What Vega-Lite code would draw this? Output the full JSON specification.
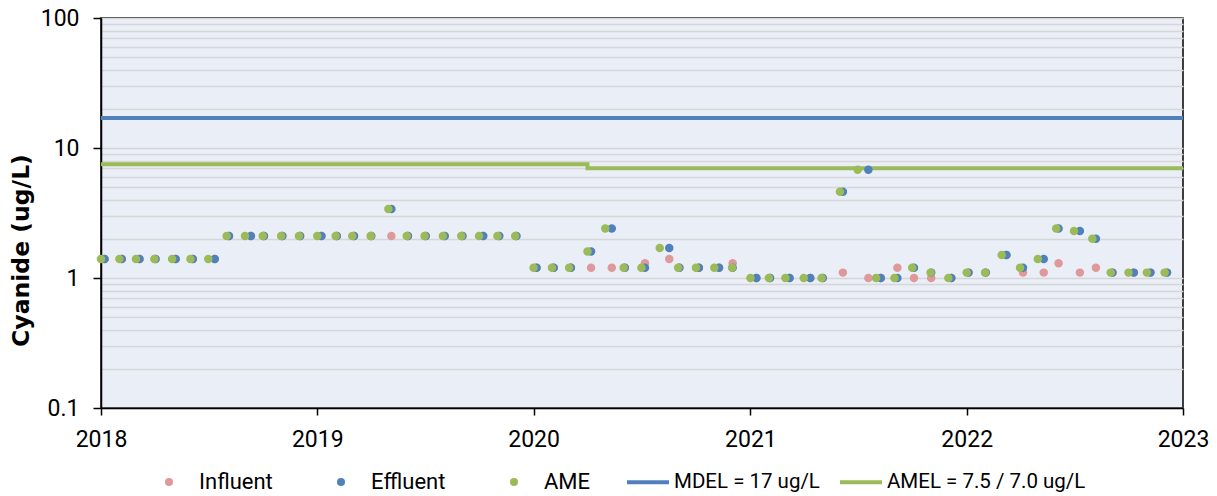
{
  "$schema": "https://vega.github.io/schema/vega-lite/v6.json",
  "width": 1082,
  "height": 390,
  "autosize": {"type": "none"},
  "padding": {"left": 101, "top": 18, "right": 34, "bottom": 88},
  "background": "white",
  "config": {
    "font": "Roboto",
    "view": {"fill": "#eaeff7", "stroke": "#000000", "strokeWidth": 1.5},
    "axis": {
      "labelFont": "Roboto",
      "labelFontSize": 23,
      "labelColor": "#000000",
      "domainColor": "#000000",
      "domainWidth": 1.5,
      "tickColor": "#000000",
      "tickWidth": 1.5,
      "labelFlush": false,
      "labelOverlap": false
    },
    "legend": {
      "orient": "none",
      "direction": "horizontal",
      "title": null,
      "padding": 0,
      "labelFont": "Roboto",
      "labelFontSize": 22,
      "labelColor": "#000000",
      "labelLimit": 400
    }
  },
  "datasets": {
    "lim": [
      {"date": "2018-01-01", "series": "MDEL = 17 ug/L", "value": 17},
      {"date": "2023-01-01", "series": "MDEL = 17 ug/L", "value": 17},
      {"date": "2018-01-01", "series": "AMEL = 7.5 / 7.0 ug/L", "value": 7.5},
      {"date": "2020-04-01", "series": "AMEL = 7.5 / 7.0 ug/L", "value": 7.0},
      {"date": "2023-01-01", "series": "AMEL = 7.5 / 7.0 ug/L", "value": 7.0}
    ],
    "pts": [
      {"date": "2018-01-07", "series": "Influent", "value": 1.4},
      {"date": "2018-02-05", "series": "Influent", "value": 1.4},
      {"date": "2018-03-07", "series": "Influent", "value": 1.4},
      {"date": "2018-04-03", "series": "Influent", "value": 1.4},
      {"date": "2018-05-07", "series": "Influent", "value": 1.4},
      {"date": "2018-06-05", "series": "Influent", "value": 1.4},
      {"date": "2018-07-12", "series": "Influent", "value": 1.4},
      {"date": "2018-08-05", "series": "Influent", "value": 2.1},
      {"date": "2018-09-11", "series": "Influent", "value": 2.1},
      {"date": "2018-10-03", "series": "Influent", "value": 2.1},
      {"date": "2018-11-03", "series": "Influent", "value": 2.1},
      {"date": "2018-12-03", "series": "Influent", "value": 2.1},
      {"date": "2019-01-08", "series": "Influent", "value": 2.1},
      {"date": "2019-02-03", "series": "Influent", "value": 2.1},
      {"date": "2019-03-04", "series": "Influent", "value": 2.1},
      {"date": "2019-04-02", "series": "Influent", "value": 2.1},
      {"date": "2019-05-06", "series": "Influent", "value": 2.1},
      {"date": "2019-06-03", "series": "Influent", "value": 2.1},
      {"date": "2019-07-03", "series": "Influent", "value": 2.1},
      {"date": "2019-08-04", "series": "Influent", "value": 2.1},
      {"date": "2019-09-03", "series": "Influent", "value": 2.1},
      {"date": "2019-10-08", "series": "Influent", "value": 2.1},
      {"date": "2019-11-04", "series": "Influent", "value": 2.1},
      {"date": "2019-12-03", "series": "Influent", "value": 2.1},
      {"date": "2020-01-06", "series": "Influent", "value": 1.2},
      {"date": "2020-02-04", "series": "Influent", "value": 1.2},
      {"date": "2020-03-04", "series": "Influent", "value": 1.2},
      {"date": "2020-04-07", "series": "Influent", "value": 1.2},
      {"date": "2020-05-12", "series": "Influent", "value": 1.2},
      {"date": "2020-06-03", "series": "Influent", "value": 1.2},
      {"date": "2020-07-07", "series": "Influent", "value": 1.3},
      {"date": "2020-08-17", "series": "Influent", "value": 1.4},
      {"date": "2020-09-03", "series": "Influent", "value": 1.2},
      {"date": "2020-10-06", "series": "Influent", "value": 1.2},
      {"date": "2020-11-09", "series": "Influent", "value": 1.2},
      {"date": "2020-12-02", "series": "Influent", "value": 1.3},
      {"date": "2021-01-11", "series": "Influent", "value": 1.0},
      {"date": "2021-02-03", "series": "Influent", "value": 1.0},
      {"date": "2021-03-08", "series": "Influent", "value": 1.0},
      {"date": "2021-04-12", "series": "Influent", "value": 1.0},
      {"date": "2021-05-03", "series": "Influent", "value": 1.0},
      {"date": "2021-06-06", "series": "Influent", "value": 1.1},
      {"date": "2021-07-19", "series": "Influent", "value": 1.0},
      {"date": "2021-08-09", "series": "Influent", "value": 1.0},
      {"date": "2021-09-06", "series": "Influent", "value": 1.2},
      {"date": "2021-10-04", "series": "Influent", "value": 1.0},
      {"date": "2021-11-02", "series": "Influent", "value": 1.0},
      {"date": "2021-12-06", "series": "Influent", "value": 1.0},
      {"date": "2022-01-04", "series": "Influent", "value": 1.1},
      {"date": "2022-02-02", "series": "Influent", "value": 1.1},
      {"date": "2022-03-09", "series": "Influent", "value": 1.5},
      {"date": "2022-04-06", "series": "Influent", "value": 1.1},
      {"date": "2022-05-11", "series": "Influent", "value": 1.1},
      {"date": "2022-06-05", "series": "Influent", "value": 1.3},
      {"date": "2022-07-11", "series": "Influent", "value": 1.1},
      {"date": "2022-08-07", "series": "Influent", "value": 1.2},
      {"date": "2022-09-04", "series": "Influent", "value": 1.1},
      {"date": "2022-10-10", "series": "Influent", "value": 1.1},
      {"date": "2022-11-07", "series": "Influent", "value": 1.1},
      {"date": "2022-12-05", "series": "Influent", "value": 1.1},

      {"date": "2018-01-07", "series": "Effluent", "value": 1.4},
      {"date": "2018-02-05", "series": "Effluent", "value": 1.4},
      {"date": "2018-03-07", "series": "Effluent", "value": 1.4},
      {"date": "2018-04-03", "series": "Effluent", "value": 1.4},
      {"date": "2018-05-07", "series": "Effluent", "value": 1.4},
      {"date": "2018-06-05", "series": "Effluent", "value": 1.4},
      {"date": "2018-07-12", "series": "Effluent", "value": 1.4},
      {"date": "2018-08-05", "series": "Effluent", "value": 2.1},
      {"date": "2018-09-11", "series": "Effluent", "value": 2.1},
      {"date": "2018-10-03", "series": "Effluent", "value": 2.1},
      {"date": "2018-11-03", "series": "Effluent", "value": 2.1},
      {"date": "2018-12-03", "series": "Effluent", "value": 2.1},
      {"date": "2019-01-08", "series": "Effluent", "value": 2.1},
      {"date": "2019-02-03", "series": "Effluent", "value": 2.1},
      {"date": "2019-03-04", "series": "Effluent", "value": 2.1},
      {"date": "2019-04-02", "series": "Effluent", "value": 2.1},
      {"date": "2019-05-06", "series": "Effluent", "value": 3.4},
      {"date": "2019-06-03", "series": "Effluent", "value": 2.1},
      {"date": "2019-07-03", "series": "Effluent", "value": 2.1},
      {"date": "2019-08-04", "series": "Effluent", "value": 2.1},
      {"date": "2019-09-03", "series": "Effluent", "value": 2.1},
      {"date": "2019-10-08", "series": "Effluent", "value": 2.1},
      {"date": "2019-11-04", "series": "Effluent", "value": 2.1},
      {"date": "2019-12-03", "series": "Effluent", "value": 2.1},
      {"date": "2020-01-06", "series": "Effluent", "value": 1.2},
      {"date": "2020-02-04", "series": "Effluent", "value": 1.2},
      {"date": "2020-03-04", "series": "Effluent", "value": 1.2},
      {"date": "2020-04-07", "series": "Effluent", "value": 1.6},
      {"date": "2020-05-12", "series": "Effluent", "value": 2.4},
      {"date": "2020-06-03", "series": "Effluent", "value": 1.2},
      {"date": "2020-07-07", "series": "Effluent", "value": 1.2},
      {"date": "2020-08-17", "series": "Effluent", "value": 1.7},
      {"date": "2020-09-03", "series": "Effluent", "value": 1.2},
      {"date": "2020-10-06", "series": "Effluent", "value": 1.2},
      {"date": "2020-11-09", "series": "Effluent", "value": 1.2},
      {"date": "2020-12-02", "series": "Effluent", "value": 1.2},
      {"date": "2021-01-11", "series": "Effluent", "value": 1.0},
      {"date": "2021-02-03", "series": "Effluent", "value": 1.0},
      {"date": "2021-03-08", "series": "Effluent", "value": 1.0},
      {"date": "2021-04-12", "series": "Effluent", "value": 1.0},
      {"date": "2021-05-03", "series": "Effluent", "value": 1.0},
      {"date": "2021-06-06", "series": "Effluent", "value": 4.6},
      {"date": "2021-07-19", "series": "Effluent", "value": 6.8},
      {"date": "2021-08-09", "series": "Effluent", "value": 1.0},
      {"date": "2021-09-06", "series": "Effluent", "value": 1.0},
      {"date": "2021-10-04", "series": "Effluent", "value": 1.2},
      {"date": "2021-11-02", "series": "Effluent", "value": 1.1},
      {"date": "2021-12-06", "series": "Effluent", "value": 1.0},
      {"date": "2022-01-04", "series": "Effluent", "value": 1.1},
      {"date": "2022-02-02", "series": "Effluent", "value": 1.1},
      {"date": "2022-03-09", "series": "Effluent", "value": 1.5},
      {"date": "2022-04-06", "series": "Effluent", "value": 1.2},
      {"date": "2022-05-11", "series": "Effluent", "value": 1.4},
      {"date": "2022-06-05", "series": "Effluent", "value": 2.4},
      {"date": "2022-07-11", "series": "Effluent", "value": 2.3},
      {"date": "2022-08-07", "series": "Effluent", "value": 2.0},
      {"date": "2022-09-04", "series": "Effluent", "value": 1.1},
      {"date": "2022-10-10", "series": "Effluent", "value": 1.1},
      {"date": "2022-11-07", "series": "Effluent", "value": 1.1},
      {"date": "2022-12-05", "series": "Effluent", "value": 1.1},

      {"date": "2018-01-01", "series": "AME", "value": 1.4},
      {"date": "2018-02-01", "series": "AME", "value": 1.4},
      {"date": "2018-03-01", "series": "AME", "value": 1.4},
      {"date": "2018-04-01", "series": "AME", "value": 1.4},
      {"date": "2018-05-01", "series": "AME", "value": 1.4},
      {"date": "2018-06-01", "series": "AME", "value": 1.4},
      {"date": "2018-07-01", "series": "AME", "value": 1.4},
      {"date": "2018-08-01", "series": "AME", "value": 2.1},
      {"date": "2018-09-01", "series": "AME", "value": 2.1},
      {"date": "2018-10-01", "series": "AME", "value": 2.1},
      {"date": "2018-11-01", "series": "AME", "value": 2.1},
      {"date": "2018-12-01", "series": "AME", "value": 2.1},
      {"date": "2019-01-01", "series": "AME", "value": 2.1},
      {"date": "2019-02-01", "series": "AME", "value": 2.1},
      {"date": "2019-03-01", "series": "AME", "value": 2.1},
      {"date": "2019-04-01", "series": "AME", "value": 2.1},
      {"date": "2019-05-01", "series": "AME", "value": 3.4},
      {"date": "2019-06-01", "series": "AME", "value": 2.1},
      {"date": "2019-07-01", "series": "AME", "value": 2.1},
      {"date": "2019-08-01", "series": "AME", "value": 2.1},
      {"date": "2019-09-01", "series": "AME", "value": 2.1},
      {"date": "2019-10-01", "series": "AME", "value": 2.1},
      {"date": "2019-11-01", "series": "AME", "value": 2.1},
      {"date": "2019-12-01", "series": "AME", "value": 2.1},
      {"date": "2020-01-01", "series": "AME", "value": 1.2},
      {"date": "2020-02-01", "series": "AME", "value": 1.2},
      {"date": "2020-03-01", "series": "AME", "value": 1.2},
      {"date": "2020-04-01", "series": "AME", "value": 1.6},
      {"date": "2020-05-01", "series": "AME", "value": 2.4},
      {"date": "2020-06-01", "series": "AME", "value": 1.2},
      {"date": "2020-07-01", "series": "AME", "value": 1.2},
      {"date": "2020-08-01", "series": "AME", "value": 1.7},
      {"date": "2020-09-01", "series": "AME", "value": 1.2},
      {"date": "2020-10-01", "series": "AME", "value": 1.2},
      {"date": "2020-11-01", "series": "AME", "value": 1.2},
      {"date": "2020-12-01", "series": "AME", "value": 1.2},
      {"date": "2021-01-01", "series": "AME", "value": 1.0},
      {"date": "2021-02-01", "series": "AME", "value": 1.0},
      {"date": "2021-03-01", "series": "AME", "value": 1.0},
      {"date": "2021-04-01", "series": "AME", "value": 1.0},
      {"date": "2021-05-01", "series": "AME", "value": 1.0},
      {"date": "2021-06-01", "series": "AME", "value": 4.6},
      {"date": "2021-07-01", "series": "AME", "value": 6.8},
      {"date": "2021-08-01", "series": "AME", "value": 1.0},
      {"date": "2021-09-01", "series": "AME", "value": 1.0},
      {"date": "2021-10-01", "series": "AME", "value": 1.2},
      {"date": "2021-11-01", "series": "AME", "value": 1.1},
      {"date": "2021-12-01", "series": "AME", "value": 1.0},
      {"date": "2022-01-01", "series": "AME", "value": 1.1},
      {"date": "2022-02-01", "series": "AME", "value": 1.1},
      {"date": "2022-03-01", "series": "AME", "value": 1.5},
      {"date": "2022-04-01", "series": "AME", "value": 1.2},
      {"date": "2022-05-01", "series": "AME", "value": 1.4},
      {"date": "2022-06-01", "series": "AME", "value": 2.4},
      {"date": "2022-07-01", "series": "AME", "value": 2.3},
      {"date": "2022-08-01", "series": "AME", "value": 2.0},
      {"date": "2022-09-01", "series": "AME", "value": 1.1},
      {"date": "2022-10-01", "series": "AME", "value": 1.1},
      {"date": "2022-11-01", "series": "AME", "value": 1.1},
      {"date": "2022-12-01", "series": "AME", "value": 1.1}
    ]
  },
  "encoding": {
    "x": {
      "field": "date",
      "type": "temporal",
      "scale": {
        "type": "utc",
        "domain": [
          {"year": 2018, "month": 1, "date": 1, "utc": true},
          {"year": 2023, "month": 1, "date": 1, "utc": true}
        ]
      },
      "axis": {
        "title": null,
        "grid": false,
        "format": "%Y",
        "values": [
          {"year": 2018, "month": 1, "date": 1, "utc": true},
          {"year": 2019, "month": 1, "date": 1, "utc": true},
          {"year": 2020, "month": 1, "date": 1, "utc": true},
          {"year": 2021, "month": 1, "date": 1, "utc": true},
          {"year": 2022, "month": 1, "date": 1, "utc": true},
          {"year": 2023, "month": 1, "date": 1, "utc": true}
        ],
        "tickSize": 7,
        "labelPadding": 13
      }
    },
    "y": {
      "field": "value",
      "type": "quantitative",
      "scale": {"type": "log", "domain": [0.1, 100]},
      "axis": {
        "title": "Cyanide (ug/L)",
        "titleFont": "DejaVu Sans",
        "titleFontSize": 23.5,
        "titleFontWeight": "bold",
        "titleColor": "#000000",
        "titleX": -68,
        "titleY": 232,
        "values": [0.1, 0.2, 0.3, 0.4, 0.5, 0.6, 0.7, 0.8, 0.9, 1, 2, 3, 4, 5, 6, 7, 8, 9, 10, 20, 30, 40, 50, 60, 70, 80, 90, 100],
        "labelExpr": "datum.value == 0.1 ? '0.1' : datum.value == 1 ? '1' : datum.value == 10 ? '10' : datum.value == 100 ? '100' : ''",
        "tickOpacity": {"condition": {"test": "datum.value == 0.1 || datum.value == 1 || datum.value == 10 || datum.value == 100", "value": 1}, "value": 0},
        "grid": true,
        "gridColor": "#d6d6d6",
        "gridWidth": 1.5,
        "tickSize": 8,
        "labelPadding": 14
      }
    }
  },
  "layer": [
    {
      "data": {"name": "lim"},
      "mark": {"type": "line", "strokeWidth": 4, "interpolate": "step-after"},
      "encoding": {
        "stroke": {
          "field": "series",
          "type": "nominal",
          "scale": {
            "domain": ["MDEL = 17 ug/L", "AMEL = 7.5 / 7.0 ug/L"],
            "range": ["#4f81bd", "#9bbb59"]
          },
          "legend": {
            "legendX": 524,
            "legendY": 441,
            "symbolType": "stroke",
            "symbolSize": 1764,
            "symbolStrokeWidth": 4,
            "labelFontSize": 20.5,
            "labelOffset": 3,
            "columnPadding": 12
          }
        }
      }
    },
    {
      "data": {"name": "pts"},
      "encoding": {
        "fill": {
          "field": "series",
          "type": "nominal",
          "scale": {
            "domain": ["Influent", "Effluent", "AME"],
            "range": ["#e0999b", "#4f81bd", "#9bbb59"]
          },
          "legend": {
            "legendX": 57,
            "legendY": 453,
            "symbolType": "circle",
            "symbolSize": 64,
            "symbolOpacity": 1,
            "labelOffset": 19,
            "columnPadding": 57
          }
        }
      },
      "layer": [
        {
          "transform": [{"filter": "datum.series === 'Influent'"}],
          "mark": {"type": "circle", "size": 72, "opacity": 1}
        },
        {
          "transform": [{"filter": "datum.series === 'Effluent'"}],
          "mark": {"type": "circle", "size": 72, "opacity": 1}
        },
        {
          "transform": [{"filter": "datum.series === 'AME'"}],
          "mark": {"type": "circle", "size": 72, "opacity": 1}
        }
      ]
    }
  ]
}
